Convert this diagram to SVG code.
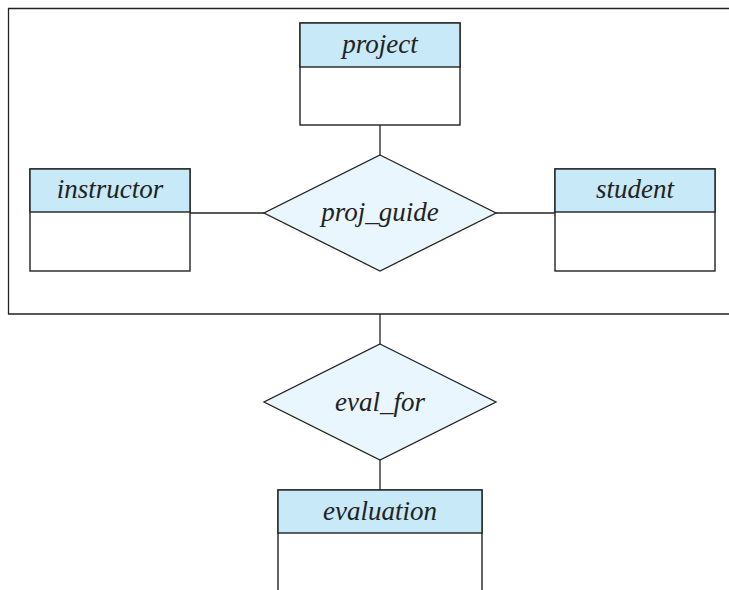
<svg xmlns="http://www.w3.org/2000/svg" width="729" height="590" viewBox="0 0 729 590">
<style>
.hdr{fill:#c7e9f8;stroke:#222;stroke-width:1.4}
.body{fill:#fff;stroke:#222;stroke-width:1.4}
.dia{fill:#e9f6fd;stroke:#222;stroke-width:1.3}
.lbl{font-family:"Liberation Serif",serif;font-style:italic;font-size:27px;fill:#222;text-anchor:middle}
.ln{stroke:#222;stroke-width:1.3;fill:none}
</style>
<rect width="729" height="590" fill="#fff"/>
<g id="aggregation">
<path class="ln" d="M729,8.5 H8.5 V314 H729"/>
</g>
<g id="connectors">
<line class="ln" x1="380" y1="125" x2="380" y2="155"/>
<line class="ln" x1="190" y1="213" x2="264" y2="213"/>
<line class="ln" x1="496" y1="213" x2="555" y2="213"/>
<line class="ln" x1="380" y1="314" x2="380" y2="344"/>
<line class="ln" x1="380" y1="460" x2="380" y2="490"/>
</g>
<g id="project">
<rect class="body" x="300" y="23" width="160" height="102"/>
<rect class="hdr" x="300" y="23" width="160" height="44"/>
<text class="lbl" x="380" y="53">project</text>
</g>
<g id="instructor">
<rect class="body" x="30" y="169" width="160" height="102"/>
<rect class="hdr" x="30" y="169" width="160" height="43"/>
<text class="lbl" x="110" y="198">instructor</text>
</g>
<g id="student">
<rect class="body" x="555" y="169" width="160" height="102"/>
<rect class="hdr" x="555" y="169" width="160" height="43"/>
<text class="lbl" x="635" y="198">student</text>
</g>
<g id="proj_guide">
<polygon class="dia" points="380,155 496,213 380,271 264,213"/>
<text class="lbl" x="380" y="221">proj_guide</text>
</g>
<g id="eval_for">
<polygon class="dia" points="380,344 496,402 380,460 264,402"/>
<text class="lbl" x="380" y="411">eval_for</text>
</g>
<g id="evaluation">
<rect class="body" x="278" y="490" width="204" height="110"/>
<rect class="hdr" x="278" y="490" width="204" height="43"/>
<text class="lbl" x="380" y="520">evaluation</text>
</g>
</svg>
